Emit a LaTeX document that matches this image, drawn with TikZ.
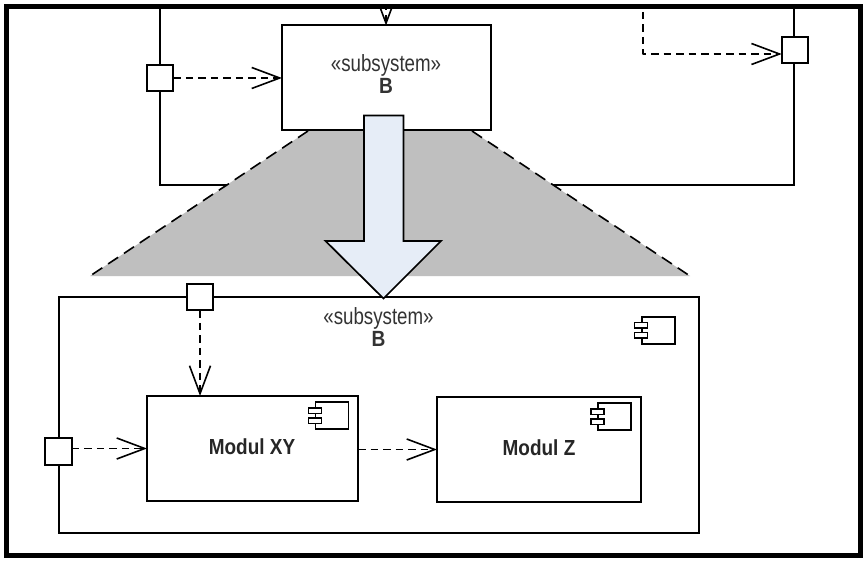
\documentclass[tikz,border=0pt]{standalone}
\usepackage{fontspec}
\setmainfont{Liberation Sans}
\newfontfamily\narrowfont[FakeStretch=0.87]{Liberation Sans}
\newfontfamily\tallfont[FakeStretch=0.8]{Liberation Sans}
\usetikzlibrary{arrows.meta}
\definecolor{zonegray}{HTML}{BFBFBF}
\definecolor{arrowfill}{HTML}{E6EDF7}
\tikzset{
  x=1pt,y=-1pt,
  every node/.style={inner sep=0pt,outer sep=0pt},
  box/.style={draw=black,fill=white,line width=2pt,minimum width=#1,anchor=north west},
  port/.style={draw=black,fill=white,line width=1.7pt,minimum width=26.5pt,minimum height=26.5pt},
  wire/.style={line width=2pt,draw=black},
  dep/.style={line width=1.8pt,draw=black,dash pattern=on 7.5pt off 5pt,
    -{Straight Barb[length=28pt,width=21pt,line width=1.6pt]}},
  stereo/.style={font=\tallfont\fontsize{23.4}{24}\selectfont,text=black!80},
  bname/.style={font=\narrowfont\bfseries\fontsize{22}{22}\selectfont,text=black!80},
  modname/.style={font=\narrowfont\bfseries\fontsize{21.8}{22}\selectfont,text=black!85},
  compbody/.style={draw=black,fill=white,line width=1.6pt},
  comptab/.style={draw=black,fill=white,line width=1.5pt}
}
\newcommand{\compicon}[2]{%
  \draw[compbody] (#1,#2) rectangle ++(33,27);
  \draw[comptab] (#1-7,#2+6) rectangle ++(13,5.5);
  \draw[comptab] (#1-7,#2+16) rectangle ++(13,5.5);
}
\begin{document}
\begin{tikzpicture}
\useasboundingbox (0,0) rectangle (866,561);
\fill[white] (0,0) rectangle (866,561);
\begin{scope}
\clip (6,6) rectangle (860,555);
% upper enclosing frame
\coordinate (ftl) at (160,0);
\coordinate (ftr) at (794,0);
\coordinate (fbl) at (160,185.5);
\coordinate (fbr) at (794,185.5);
\draw[wire,line join=miter] (ftl) -- (fbl) -- (fbr) -- (ftr);
% zoom trapezoid
\coordinate (tl) at (308,131);
\coordinate (tr) at (472,131);
\coordinate (br) at (690,276);
\coordinate (bl) at (90,276);
\fill[zonegray] (tl) -- (tr) -- (br) -- (bl) -- cycle;
\draw[line width=1.6pt,dash pattern=on 12pt off 7pt,draw=black] (tl) -- (bl);
\draw[line width=1.6pt,dash pattern=on 12pt off 7pt,draw=black] (tr) -- (br);
% subsystem B (top)
\node[box=209pt,minimum height=105pt] (subB) at (282,25.5) {};
\node[stereo] (subBs) at (386,65) {«subsystem»};
\node[bname] (subBn) at (386,86) {B};
\node[port] (pl) at (160,78) {};
\node[port] (pr) at (795,50) {};
\coordinate (ctop) at (386,-10);
\coordinate (cright) at (643,12);
\coordinate (cbend) at (643,54);
\draw[dep] (pl.east) -- (pl.east -| subB.west);
\draw[dep] (ctop) -- (subB.north -| ctop);
\draw[dep,line join=round] (cright) -- (cbend) -- (cbend -| pr.west);
% lower subsystem
\node[box=640.5pt,minimum height=236pt] (sub) at (58.5,297) {};
\node[stereo] (subs) at (378.5,318) {«subsystem»};
\node[bname] (subn) at (378.5,339) {B};
\compicon{641.7}{316.7}
\node[port] (pt) at (200,297) {};
\node[port] (pb) at (58.5,451.5) {};
\node[box=211pt,minimum height=105pt] (xy) at (147,396) {};
\node[modname] (xyn) at (252,447) {Modul XY};
\compicon{315.5}{402}
\node[box=204pt,minimum height=105pt] (z) at (437,397) {};
\node[modname] (zn) at (539,448) {Modul Z};
\compicon{598}{403}
\draw[dep] (pt.south) -- (pt.south |- xy.north);
\draw[dep] (xy.west -| pb.east) -- (xy.west);
\draw[dep] (xy.east |- z.west) -- (z.west);
% transition arrow
\draw[line width=1.7pt,draw=black,fill=arrowfill,line join=miter]
  (364,115.5) -- (403.5,115.5) -- (403.5,241) -- (441,241) -- (383.5,298.5)
  -- (325.5,241) -- (364,241) -- cycle;
\end{scope}
% outer border
\draw[line width=4.6pt,draw=black] (6.5,6.5) rectangle (860.3,555.3);
\end{tikzpicture}
\end{document}
